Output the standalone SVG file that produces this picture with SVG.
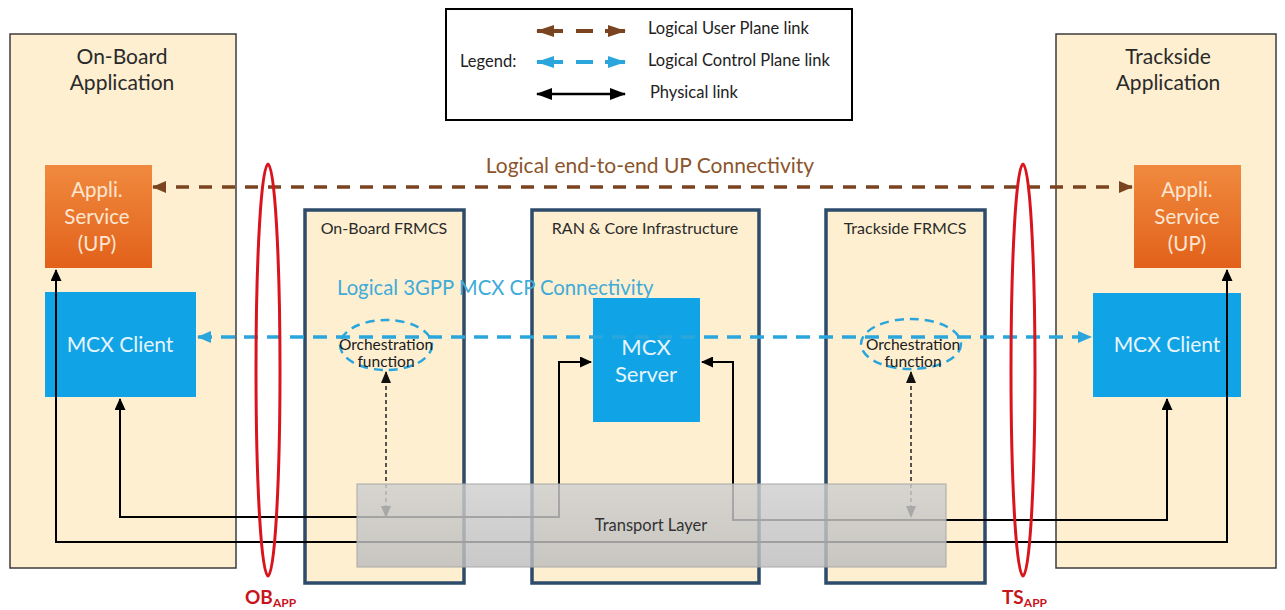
<svg xmlns="http://www.w3.org/2000/svg" width="1285" height="610" viewBox="0 0 1285 610">
<defs>
<linearGradient id="gOrange" x1="0" y1="0" x2="0" y2="1"><stop offset="0" stop-color="#f08a3e"/><stop offset="1" stop-color="#e2611b"/></linearGradient>
<linearGradient id="gGray" x1="0" y1="0" x2="0" y2="1"><stop offset="0" stop-color="#cfcfcf"/><stop offset="1" stop-color="#bdbdbd"/></linearGradient>
<marker id="mBrown" viewBox="0 0 14 12" refX="13" refY="6" markerWidth="14" markerHeight="12" markerUnits="userSpaceOnUse" orient="auto-start-reverse"><path d="M0,0 L14,6 L0,12 z" fill="#7b4420"/></marker>
<marker id="mBlue" viewBox="0 0 14 12" refX="13" refY="6" markerWidth="14" markerHeight="12" markerUnits="userSpaceOnUse" orient="auto-start-reverse"><path d="M0,0 L14,6 L0,12 z" fill="#2aa6dc"/></marker>
<marker id="mBlack" viewBox="0 0 12 11" refX="11" refY="5.5" markerWidth="12" markerHeight="11" markerUnits="userSpaceOnUse" orient="auto-start-reverse"><path d="M0,0 L12,5.5 L0,11 z" fill="#000"/></marker>
<marker id="mDot" viewBox="0 0 12 10" refX="11" refY="5" markerWidth="12" markerHeight="10" markerUnits="userSpaceOnUse" orient="auto-start-reverse"><path d="M0,0 L12,5 L0,10 z" fill="#111"/></marker>
<marker id="mLegB" viewBox="0 0 18 12" refX="17" refY="6" markerWidth="18" markerHeight="12" markerUnits="userSpaceOnUse" orient="auto-start-reverse"><path d="M0,0 L18,6 L0,12 z" fill="#7b4420"/></marker>
<marker id="mLegC" viewBox="0 0 18 12" refX="17" refY="6" markerWidth="18" markerHeight="12" markerUnits="userSpaceOnUse" orient="auto-start-reverse"><path d="M0,0 L18,6 L0,12 z" fill="#2aa6dc"/></marker>
<marker id="mLegK" viewBox="0 0 16 12" refX="15" refY="6" markerWidth="16" markerHeight="12" markerUnits="userSpaceOnUse" orient="auto-start-reverse"><path d="M0,0 L16,6 L0,12 z" fill="#000"/></marker>
</defs>
<style>
text{font-family:Lato,"Open Sans","Liberation Sans",sans-serif}
.app{fill:#fdefd0;stroke:#3c3c3c;stroke-width:1.5}
.frm{fill:#fdefd0;stroke:#2d4b6b;stroke-width:3.5}
.orange{fill:url(#gOrange)}
.blue{fill:#10a4e6}
.ttl{fill:#2a2a2a;text-anchor:middle;font-size:21px}
.ftl{fill:#2a2a2a;text-anchor:middle;font-size:16px}
.wt{fill:#e6f5fc;text-anchor:middle}
.ot{fill:#fde6d2;text-anchor:middle;font-size:20.5px}
.phys{fill:none;stroke:#000;stroke-width:2;marker-start:url(#mBlack);marker-end:url(#mBlack)}
.up{fill:none;stroke:#7b4420;stroke-width:3.5;stroke-dasharray:13 10}
.cp{fill:none;stroke:#2aa6dc;stroke-width:3.5;stroke-dasharray:14 9}
.dot{fill:none;stroke:#222;stroke-width:1.5;stroke-dasharray:4 3;marker-start:url(#mDot);marker-end:url(#mDot)}
.red{fill:none;stroke:#d9141c;stroke-width:3}
.lg{fill:#222;font-size:16.5px}
.rl{fill:#c8141c;font-weight:bold;font-size:19px}
.orc{fill:#1a1a1a;text-anchor:middle;font-size:15.5px}
</style>

<!-- Application boxes -->
<g id="onboard-app">
<rect class="app" x="10" y="34" width="226" height="534"/>
<text class="ttl" x="122" y="64">On-Board</text>
<text class="ttl" x="122" y="90">Application</text>
</g>
<g id="trackside-app">
<rect class="app" x="1056" y="34" width="220" height="534"/>
<text class="ttl" x="1168" y="64">Trackside</text>
<text class="ttl" x="1168" y="90">Application</text>
</g>

<!-- FRMCS / infrastructure boxes -->
<g id="onboard-frmcs">
<rect class="frm" x="305" y="210" width="159" height="373"/>
<text class="ftl" x="384" y="234">On-Board FRMCS</text>
</g>
<g id="ran-core">
<rect class="frm" x="532" y="210" width="227" height="373"/>
<text class="ftl" x="645" y="234">RAN &amp; Core Infrastructure</text>
</g>
<g id="trackside-frmcs">
<rect class="frm" x="826" y="210" width="159" height="373"/>
<text class="ftl" x="905" y="234">Trackside FRMCS</text>
</g>

<!-- Inner nodes -->
<g id="ob-appli">
<rect class="orange" x="45" y="165" width="107" height="103"/>
<text class="ot" x="97" y="197">Appli.</text>
<text class="ot" x="97" y="224">Service</text>
<text class="ot" x="97" y="251">(UP)</text>
</g>
<g id="ts-appli">
<rect class="orange" x="1134" y="165" width="107" height="103"/>
<text class="ot" x="1187" y="197">Appli.</text>
<text class="ot" x="1187" y="224">Service</text>
<text class="ot" x="1187" y="251">(UP)</text>
</g>
<g id="ob-mcx-client">
<rect class="blue" x="45" y="292" width="151" height="105"/>
<text class="wt" x="120" y="352" font-size="21">MCX Client</text>
</g>
<g id="ts-mcx-client">
<rect class="blue" x="1093" y="293" width="148" height="104"/>
<text class="wt" x="1167" y="352" font-size="21">MCX Client</text>
</g>
<g id="mcx-server">
<rect class="blue" x="593" y="298" width="107" height="124"/>
<text class="wt" x="646" y="355" font-size="22">MCX</text>
<text class="wt" x="646" y="382" font-size="22">Server</text>
</g>
<g id="ob-orch">
<ellipse cx="386" cy="345" rx="46" ry="25" fill="none" stroke="#2aa6dc" stroke-width="2.5" stroke-dasharray="9 6"/>
</g>
<g id="ts-orch">
<ellipse cx="911" cy="344" rx="50" ry="25" fill="none" stroke="#2aa6dc" stroke-width="2.5" stroke-dasharray="9 6"/>
</g>

<!-- Connectors -->
<g id="connectors">
<path class="phys" d="M120,399 L120,517 L559,517 L559,362 L591,362"/>
<path class="phys" d="M56,270 L56,542 L1227,542 L1227,270"/>
<path class="phys" d="M702,362 L733,362 L733,520 L1167,520 L1167,399"/>
<path class="dot" d="M386,372 L386,517"/>
<path class="dot" d="M911,372 L911,517"/>
<path class="up" d="M153,187 L1132,187" marker-start="url(#mBrown)" marker-end="url(#mBrown)"/>
<path class="cp" d="M198,337 L1091,337" marker-start="url(#mBlue)" marker-end="url(#mBlue)"/>
</g>

<!-- Orchestration labels -->
<g id="orch-labels">
<text class="orc" x="386" y="350">Orchestration</text>
<text class="orc" x="386" y="367">function</text>
<text class="orc" x="913" y="350">Orchestration</text>
<text class="orc" x="913" y="367">function</text>
</g>

<!-- Transport layer -->
<g id="transport-layer">
<rect x="357" y="484" width="589" height="83" fill="url(#gGray)" fill-opacity="0.82" stroke="#a8a8a8" stroke-width="1"/>
<text x="651" y="531" text-anchor="middle" font-size="16.5" fill="#333">Transport Layer</text>
</g>

<!-- Reference points -->
<g id="ob-app-ref">
<ellipse class="red" cx="268" cy="370" rx="12" ry="206"/>
<text class="rl" x="245" y="604">OB<tspan font-size="12" dy="3">APP</tspan></text>
</g>
<g id="ts-app-ref">
<ellipse class="red" cx="1023" cy="370" rx="12" ry="206"/>
<text class="rl" x="1002" y="604">TS<tspan font-size="12" dy="3">APP</tspan></text>
</g>

<!-- Connectivity labels -->
<text x="650" y="173" text-anchor="middle" font-size="21" fill="#8b552c">Logical end-to-end UP Connectivity</text>
<text x="337" y="295" font-size="20.3" fill="#3fabd8">Logical 3GPP MCX CP Connectivity</text>

<!-- Legend -->
<g id="legend">
<rect x="446" y="9" width="406" height="111" fill="#fff" stroke="#000" stroke-width="2"/>
<text class="lg" x="460" y="67" font-size="15.5">Legend:</text>
<path d="M537,31 L625,31" fill="none" stroke="#7b4420" stroke-width="4" stroke-dasharray="26 13 17 12 24" marker-start="url(#mLegB)" marker-end="url(#mLegB)"/>
<path d="M537,62 L625,62" fill="none" stroke="#2aa6dc" stroke-width="4" stroke-dasharray="26 13 17 12 24" marker-start="url(#mLegC)" marker-end="url(#mLegC)"/>
<path d="M537,94 L625,94" fill="none" stroke="#000" stroke-width="2.5" marker-start="url(#mLegK)" marker-end="url(#mLegK)"/>
<text class="lg" x="648" y="34">Logical User Plane link</text>
<text class="lg" x="648" y="66">Logical Control Plane link</text>
<text class="lg" x="650" y="98">Physical link</text>
</g>
</svg>
